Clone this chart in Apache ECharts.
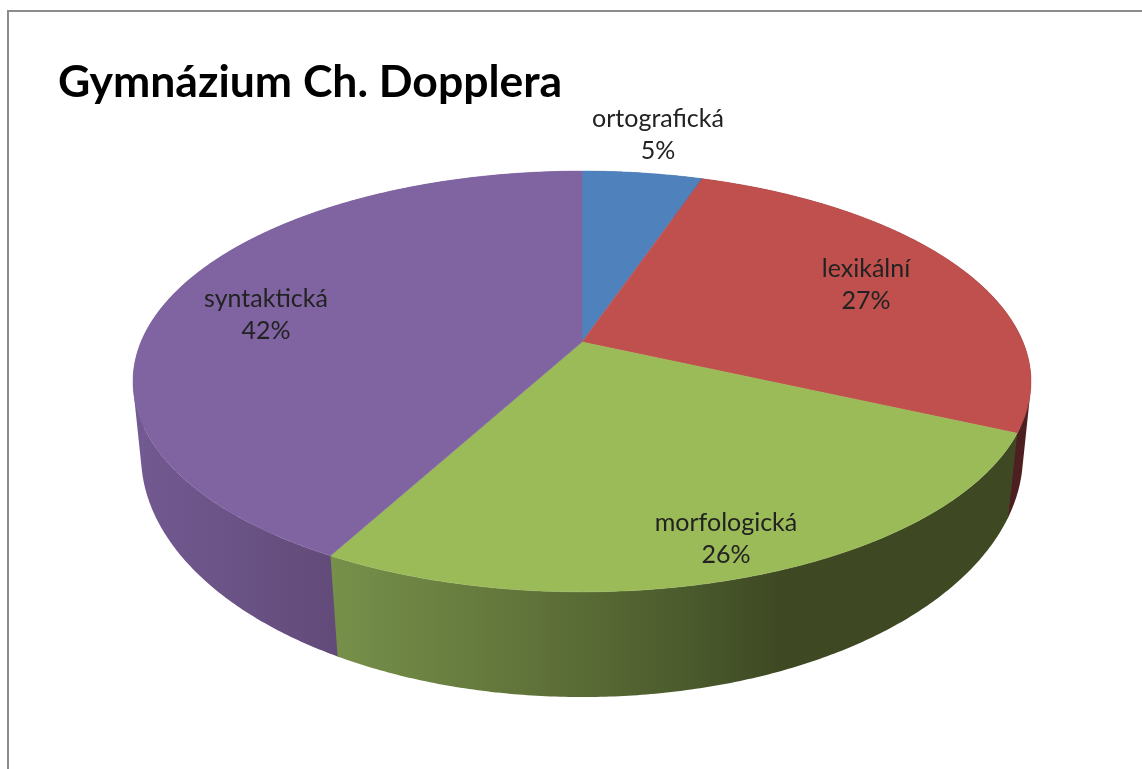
<!DOCTYPE html>
<html><head><meta charset="utf-8">
<style>html,body{margin:0;padding:0;background:#fff}#c{width:1142px;height:769px}</style>
<script src="https://cdn.jsdelivr.net/npm/echarts@6/dist/echarts.min.js"></script>
</head><body><div id="c"></div>
<script>
const titleText = 'Gymnázium Ch. Dopplera';
const categories = ['ortografická', 'lexikální', 'morfologická', 'syntaktická'];
const values = [5.2, 26.6, 26.1, 42.1];

const topColors = ['#4f81bd', '#c0504d', '#9bbb59', '#8064a2'];
const wallFills = [
  '#2f4d71',
  '#4e1f20',
  {type:'linear', global:true, x:335, y:0, x2:780, y2:0, colorStops:[{offset:0,color:'#76904a'},{offset:.5,color:'#5d6f37'},{offset:.8,color:'#4a5a2c'},{offset:1,color:'#3e4923'}]},
  {type:'linear', global:true, x:135, y:0, x2:335, y2:0, colorStops:[{offset:0,color:'#725a92'},{offset:1,color:'#624b79'}]}
];
const labelAt = [[658,135],[866,285],[726,539],[266,315]];

// perspective projection of the pie's top and bottom rims
const topRim = {x0:582, y0:342, a:203, b:441, k:0.1876};
const botRim = {x0:582, y0:412.8, a:234.5, b:434.2, k:0.175};
function project(p, deg) {
  const t = deg * Math.PI / 180, s = Math.sin(t), c = Math.cos(t), d = 1 + p.k * c;
  return [p.x0 + p.b * s / d, p.y0 - p.a * c / d];
}
const total = values.reduce((s, v) => s + v, 0);
const starts = values.map((_, i) => values.slice(0, i).reduce((s, v) => s + v, 0) / total * 360);
const ends = values.map((v, i) => starts[i] + v / total * 360);
function arc(p, a0, a1) {
  const pts = [], n = Math.max(2, Math.ceil(Math.abs(a1 - a0) * 2));
  for (let i = 0; i <= n; i++) pts.push(project(p, a0 + (a1 - a0) * i / n));
  return pts;
}
const order = [0, 1, 3, 2];
const lastWall = order[order.length - 1];
// the wall as one path of same-winding quads, so the fill has no seams;
// walls under the last one reach slightly beneath it to avoid a hairline
function wallPath(i) {
  const pad = i === lastWall ? 0 : 0.4;
  const t = arc(topRim, starts[i] - pad, ends[i] + pad), b = arc(botRim, starts[i] - pad, ends[i] + pad);
  let d = '';
  for (let j = 0; j < t.length - 1; j++) {
    let q = [t[j], t[j+1], b[j+1], b[j]];
    let area = 0;
    q.forEach((p, m) => { const r = q[(m + 1) % 4]; area += p[0] * r[1] - r[0] * p[1]; });
    if (area < 0) q = q.reverse();
    d += 'M' + q.map(p => p[0].toFixed(2) + ' ' + p[1].toFixed(2)).join('L') + 'Z';
  }
  return d;
}
const rows = categories.map((n, i) => ({name: n, value: values[i], idx: i}));

const chart = echarts.init(document.getElementById('c'), null, {renderer:'canvas'});
chart.setOption({
  animation:false,
  backgroundColor:'#fff',
  title:{text:titleText, left:53, top:55, textStyle:{fontFamily:'Lato', fontWeight:'bold', fontSize:44.5, color:'#000'}},
  graphic:[{type:'polyline', silent:true, shape:{points:[[8,775],[8,11],[1150,11]]}, style:{stroke:'#8c8c8c', lineWidth:2, fill:null}}],
  series:[
    {type:'custom', coordinateSystem:'none', silent:true, z:1,
     data: order.map(i => rows[i]),
     renderItem(params){
       const i = order[params.dataIndex];
       return {type:'path', shape:{pathData:wallPath(i)}, style:{fill:wallFills[i]}};
     }},
    {type:'custom', coordinateSystem:'none', silent:true, z:2,
     data: rows,
     renderItem(params){
       const i = params.dataIndex;
       const pts = [[topRim.x0, topRim.y0]].concat(arc(topRim, starts[i], ends[i]));
       return {type:'polygon', shape:{points:pts}, style:{fill:topColors[i], stroke:topColors[i], lineWidth:0.5}};
     }},
    {type:'custom', coordinateSystem:'none', silent:true, z:3,
     data: rows,
     renderItem(params){
       const i = params.dataIndex;
       return {type:'text', x:labelAt[i][0], y:labelAt[i][1], style:{
         text: categories[i] + '\n' + Math.round(values[i]) + '%',
         x:0, y:0, align:'center', verticalAlign:'middle',
         font:'25px Lato', lineHeight:32, fill:'#222'}};
     }}
  ]
});
</script></body></html>
